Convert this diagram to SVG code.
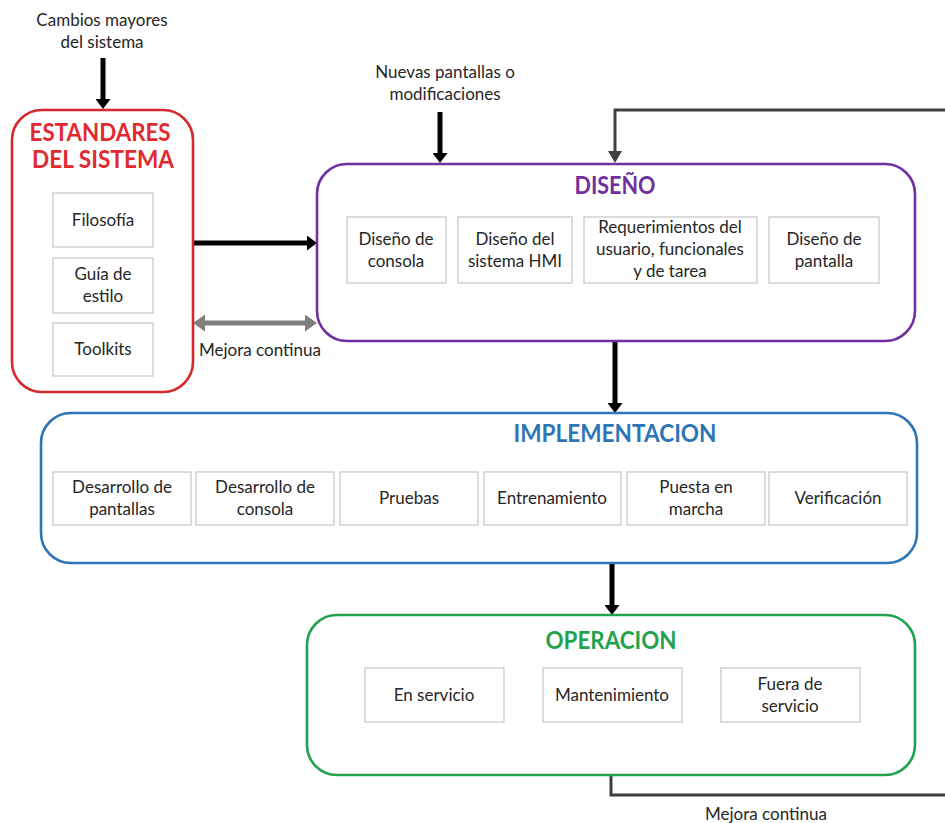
<svg xmlns="http://www.w3.org/2000/svg" width="945" height="823" viewBox="0 0 945 823">
  <style>
    .txt { font-family: Lato, "Open Sans", "Liberation Sans", sans-serif; font-size: 17px; fill: #262626; text-anchor: middle; }
    .ttl { font-family: Lato, "Open Sans", "Liberation Sans", sans-serif; font-size: 25px; font-weight: bold; text-anchor: middle; }
    .item { fill: #ffffff; stroke: #c9c9c9; stroke-width: 1.3; }
    .phase { fill: #ffffff; stroke-width: 2.6; }
    .blk { fill: none; stroke: #000000; stroke-width: 5; }
    .gry { fill: none; stroke: #7f7f7f; stroke-width: 5; }
    .loop { fill: none; stroke: #404040; stroke-width: 3; }
  </style>
  <defs>
    <marker id="headBlack" markerUnits="userSpaceOnUse" viewBox="0 0 10 15" markerWidth="10" markerHeight="15" refX="0" refY="7.5" orient="auto">
      <path d="M0,0 L10,7.5 L0,15 z" fill="#000000"/>
    </marker>
    <marker id="headGray" markerUnits="userSpaceOnUse" viewBox="0 0 12 17" markerWidth="12" markerHeight="17" refX="0" refY="8.5" orient="auto-start-reverse">
      <path d="M0,0 L12,8.5 L0,17 z" fill="#7f7f7f"/>
    </marker>
    <marker id="headDark" markerUnits="userSpaceOnUse" viewBox="0 0 12 14" markerWidth="12" markerHeight="14" refX="0" refY="7" orient="auto">
      <path d="M0,0 L12,7 L0,14 z" fill="#404040"/>
    </marker>
  </defs>

  <!-- free-standing input labels -->
  <g id="label-cambios">
    <text class="txt" x="102" y="26">Cambios mayores</text>
    <text class="txt" x="102" y="48">del sistema</text>
  </g>
  <g id="label-nuevas">
    <text class="txt" x="445" y="78">Nuevas pantallas o</text>
    <text class="txt" x="445" y="100">modificaciones</text>
  </g>

  <!-- connectors -->
  <g id="connectors">
    <line class="blk" x1="103" y1="58" x2="103" y2="99" marker-end="url(#headBlack)"/>
    <line class="blk" x1="440" y1="112" x2="440" y2="153" marker-end="url(#headBlack)"/>
    <line class="blk" x1="193" y1="243" x2="307" y2="243" marker-end="url(#headBlack)"/>
    <line class="gry" x1="205" y1="323" x2="305" y2="323" marker-start="url(#headGray)" marker-end="url(#headGray)"/>
    <line class="blk" x1="615" y1="341" x2="615" y2="403" marker-end="url(#headBlack)"/>
    <line class="blk" x1="612" y1="563" x2="612" y2="605" marker-end="url(#headBlack)"/>
    <path class="loop" d="M945,110 H615 V151" marker-end="url(#headDark)"/>
    <path class="loop" d="M611,775 V795 H945"/>
    <text class="txt" x="260" y="356">Mejora continua</text>
    <text class="txt" x="766" y="820">Mejora continua</text>
  </g>

  <!-- system standards -->
  <g id="estandares">
    <rect class="phase" x="12" y="110" width="181" height="282" rx="30" stroke="#d42a2e"/>
    <text class="ttl" fill="#e02a30" style="font-size:24px">
      <tspan x="103" y="141" textLength="141" lengthAdjust="spacingAndGlyphs">ESTANDARES</tspan>
      <tspan x="103" y="168" textLength="142" lengthAdjust="spacingAndGlyphs">DEL SISTEMA</tspan>
    </text>
    <g id="filosofia">
      <rect class="item" x="53" y="193" width="100" height="54"/>
      <text class="txt" x="103" y="226">Filosofía</text>
    </g>
    <g id="guia-estilo">
      <rect class="item" x="53" y="258" width="100" height="55"/>
      <text class="txt" x="103" y="280">Guía de</text>
      <text class="txt" x="103" y="302">estilo</text>
    </g>
    <g id="toolkits">
      <rect class="item" x="53" y="323" width="100" height="53"/>
      <text class="txt" x="103" y="355">Toolkits</text>
    </g>
  </g>

  <!-- design phase -->
  <g id="diseno">
    <rect class="phase" x="317" y="164" width="598" height="177" rx="30" stroke="#7030a0"/>
    <text class="ttl" x="615" y="194" fill="#7030a0" textLength="81" lengthAdjust="spacingAndGlyphs">DISEÑO</text>
    <g id="diseno-consola">
      <rect class="item" x="347" y="217" width="99" height="66"/>
      <text class="txt" x="396" y="245">Diseño de</text>
      <text class="txt" x="396" y="267">consola</text>
    </g>
    <g id="diseno-hmi">
      <rect class="item" x="458" y="217" width="114" height="66"/>
      <text class="txt" x="515" y="245">Diseño del</text>
      <text class="txt" x="515" y="267">sistema HMI</text>
    </g>
    <g id="requerimientos">
      <rect class="item" x="584" y="217" width="173" height="66"/>
      <text class="txt" x="670" y="233">Requerimientos del</text>
      <text class="txt" x="670" y="255">usuario, funcionales</text>
      <text class="txt" x="670" y="277">y de tarea</text>
    </g>
    <g id="diseno-pantalla">
      <rect class="item" x="769" y="217" width="110" height="66"/>
      <text class="txt" x="824" y="245">Diseño de</text>
      <text class="txt" x="824" y="267">pantalla</text>
    </g>
  </g>

  <!-- implementation phase -->
  <g id="implementacion">
    <rect class="phase" x="41" y="413" width="876" height="150" rx="30" stroke="#2e75b6"/>
    <text class="ttl" x="615" y="442" fill="#2e75b6" textLength="203" lengthAdjust="spacingAndGlyphs">IMPLEMENTACION</text>
    <g id="desarrollo-pantallas">
      <rect class="item" x="53" y="472" width="138" height="53"/>
      <text class="txt" x="122" y="493">Desarrollo de</text>
      <text class="txt" x="122" y="515">pantallas</text>
    </g>
    <g id="desarrollo-consola">
      <rect class="item" x="196" y="472" width="138" height="53"/>
      <text class="txt" x="265" y="493">Desarrollo de</text>
      <text class="txt" x="265" y="515">consola</text>
    </g>
    <g id="pruebas">
      <rect class="item" x="340" y="472" width="138" height="53"/>
      <text class="txt" x="409" y="504">Pruebas</text>
    </g>
    <g id="entrenamiento">
      <rect class="item" x="484" y="472" width="137" height="53"/>
      <text class="txt" x="552" y="504">Entrenamiento</text>
    </g>
    <g id="puesta-marcha">
      <rect class="item" x="627" y="472" width="138" height="53"/>
      <text class="txt" x="696" y="493">Puesta en</text>
      <text class="txt" x="696" y="515">marcha</text>
    </g>
    <g id="verificacion">
      <rect class="item" x="769" y="472" width="138" height="53"/>
      <text class="txt" x="838" y="504">Verificación</text>
    </g>
  </g>

  <!-- operation phase -->
  <g id="operacion">
    <rect class="phase" x="307" y="615" width="608" height="160" rx="30" stroke="#22a24f"/>
    <text class="ttl" x="611" y="649" fill="#22a24f" textLength="131" lengthAdjust="spacingAndGlyphs">OPERACION</text>
    <g id="en-servicio">
      <rect class="item" x="365" y="668" width="139" height="54"/>
      <text class="txt" x="434" y="701">En servicio</text>
    </g>
    <g id="mantenimiento">
      <rect class="item" x="543" y="668" width="139" height="54"/>
      <text class="txt" x="612" y="701">Mantenimiento</text>
    </g>
    <g id="fuera-servicio">
      <rect class="item" x="721" y="668" width="139" height="54"/>
      <text class="txt" x="790" y="690">Fuera de</text>
      <text class="txt" x="790" y="712">servicio</text>
    </g>
  </g>
</svg>
